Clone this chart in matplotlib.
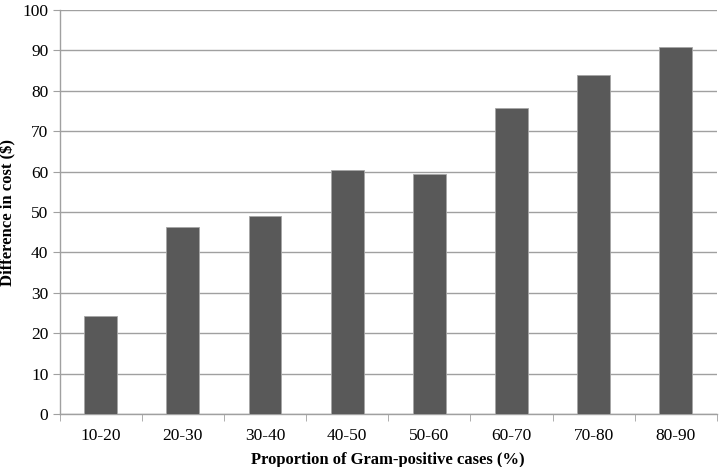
import matplotlib
matplotlib.use("Agg")
import matplotlib.pyplot as plt

categories = ["10-20", "20-30", "30-40", "40-50", "50-60", "60-70", "70-80", "80-90"]
cost_diff = [24.3, 46.4, 49.0, 60.4, 59.3, 75.7, 83.8, 90.9]

plt.rcParams["font.family"] = ["Liberation Serif", "DejaVu Serif"]

fig = plt.figure(figsize=(7.2, 4.67), dpi=100)
ax = fig.add_axes([59.5 / 720, 53 / 467, (717 - 59.5) / 720, 404 / 467])

x = list(range(len(categories)))
ax.bar(x, cost_diff, width=0.4, color="#595959", edgecolor="#a6a6a6", linewidth=0.6, zorder=3)

ax.set_xlim(-0.5, len(categories) - 0.5)
ax.set_ylim(0, 100)
ax.set_yticks(range(0, 101, 10))
ax.set_xticks(x)
ax.set_xticklabels(categories)
ax.set_xticks([i - 0.5 for i in range(len(categories) + 1)], minor=True)

ax.grid(axis="y", color="#a0a0a0", linewidth=1.0, zorder=0)
for side in ["top", "right"]:
    ax.spines[side].set_visible(False)
for side in ["left", "bottom"]:
    ax.spines[side].set_color("#a0a0a0")
    ax.spines[side].set_linewidth(1.0)

ax.tick_params(axis="y", length=5, color="#a0a0a0", labelsize=12.5, pad=3)
ax.tick_params(axis="x", which="major", length=0, labelsize=12.5, pad=10)
ax.tick_params(axis="x", which="minor", length=5, color="#a0a0a0")

ax.set_xlabel("Proportion of Gram-positive cases (%)", fontsize=12, fontweight="bold")
ax.set_ylabel("Difference in cost ($)", fontsize=12, fontweight="bold")
ax.xaxis.set_label_coords(0.5, -0.093)
ax.yaxis.set_label_coords(-0.065, 0.5)

fig.savefig("out.png", dpi=100)
